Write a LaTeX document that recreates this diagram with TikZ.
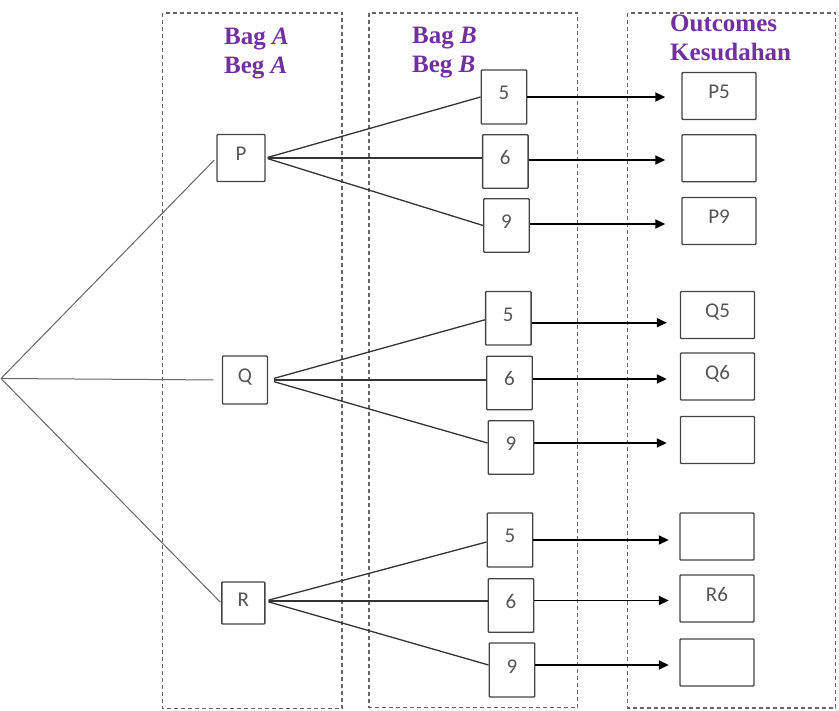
\documentclass[tikz,border=0pt]{standalone}
\usepackage{fontspec}
\setmainfont{Liberation Serif}
\newfontfamily\lblfont{Carlito}
\usetikzlibrary{arrows.meta}
\definecolor{ttlc}{HTML}{7030A0}
\definecolor{framec}{HTML}{666666}
\definecolor{boxc}{HTML}{444444}
\definecolor{lblc}{HTML}{555555}
\begin{document}
\begin{tikzpicture}[x=1pt,y=-1pt,
  frm/.style={draw=framec, line width=1.5pt, dash pattern=on 4pt off 3pt},
  nbox/.style={draw=boxc, line width=1.4pt, rounded corners=0.8pt, inner sep=0pt,
    font={\lblfont\fontsize{21}{24}\selectfont}, text=lblc, text height=11pt, text depth=5pt},
  lbox/.style={nbox, minimum width=46pt, minimum height=47pt},
  dbox/.style={nbox, minimum width=45.5pt, minimum height=53.5pt},
  obox/.style={nbox, minimum width=74pt, minimum height=47pt},
  ttl/.style={anchor=base west, inner sep=0pt, text=ttlc,
    font={\bfseries\fontsize{25}{29}\selectfont}},
  rootln/.style={draw=black!60, line width=1pt},
  br/.style={draw=black!80, line width=1.3pt},
  arr/.style={draw=black, line width=1.8pt, -{Triangle[length=10pt,width=9pt]}}
]
\useasboundingbox (0,0) rectangle (839,711);

% dashed frames
\draw[frm] (162.5,13) rectangle (342,708.5);
\draw[frm] (369,13) rectangle (577.5,707.5);
\draw[frm] (627.5,13) rectangle (835.5,708);

% titles
\node[ttl] (tA1) at (224,45) {Bag \textit{A}};
\node[ttl] (tA2) at (224,74) {Beg \textit{A}};
\node[ttl] (tB1) at (412,44) {Bag \textit{B}};
\node[ttl] (tB2) at (412,73) {Beg \textit{B}};
\node[ttl] (tC1) at (670,32) {Outcomes};
\node[ttl] (tC2) at (670,61) {Kesudahan};

% root
\coordinate (O) at (1,378.5);

% bag A
\node[lbox, minimum width=48pt] (P) at (241,158) {P};
\node[lbox, minimum width=45pt, minimum height=48pt] (Q) at (245,380) {Q};
\node[lbox, minimum width=43pt, minimum height=42pt] (R) at (243.3,603) {R};

% bag B
\node[dbox, minimum height=54pt] (P5) at (504,97) {5};
\node[dbox] (P6) at (505.3,161.5) {6};
\node[dbox] (P9) at (506.5,225.5) {9};
\node[dbox] (Q5) at (508.3,318.3) {5};
\node[dbox] (Q6) at (509.5,383) {6};
\node[dbox] (Q9) at (511,447.5) {9};
\node[dbox, minimum height=54pt] (R5) at (510,540) {5};
\node[dbox] (R6) at (511,605.5) {6};
\node[dbox, minimum height=54pt] (R9) at (512,670) {9};

% outcomes
\node[obox] (oP5) at (719,96) {P5};
\node[obox] (oP6) at (719,158.3) {};
\node[obox] (oP9) at (719,221) {P9};
\node[obox] (oQ5) at (717.5,315) {Q5};
\node[obox] (oQ6) at (717.5,376.5) {Q6};
\node[obox] (oQ9) at (717.5,440) {};
\node[obox] (oR5) at (717,536.5) {};
\node[obox] (oR6) at (717,598.5) {R6};
\node[obox] (oR9) at (717,662.5) {};

% root lines
\draw[rootln, shorten >=3pt] (O) -- (P.west);
\draw[rootln, shorten >=8.5pt] (O) -- (Q.west);
\draw[rootln, shorten >=1pt] (O) -- (R.west);

% branches from P
\draw[br, shorten <=2pt] (P.east) -- (P5.west);
\draw[br, shorten <=2pt] (P.east) -- (P.east -| P6.west);
\draw[br, shorten <=2pt] (P.east) -- (P9.west);
% branches from Q
\draw[br, shorten <=6pt] (Q.east) -- ([yshift=-1.5pt]Q5.west);
\draw[br, shorten <=6pt] (Q.east) -- (Q.east -| Q6.west);
\draw[br, shorten <=6pt] (Q.east) -- ([yshift=4.5pt]Q9.west);
% branches from R
\draw[br, shorten <=3pt] ([yshift=2pt]R.east) -- ([yshift=-2pt]R5.west);
\draw[br, shorten <=3pt] ([yshift=2pt]R.east) -- ([yshift=2pt]R.east -| R6.west);
\draw[br, shorten <=3pt] ([yshift=2pt]R.east) -- ([yshift=5pt]R9.west);

% arrows
\draw[arr, shorten >=16pt] (P5.east) -- (P5.east -| oP5.west);
\draw[arr, shorten >=16pt] ([yshift=1.5pt]P6.east) -- ([yshift=1.5pt]P6.east -| oP6.west);
\draw[arr, shorten >=16pt] ([yshift=1.5pt]P9.east) -- ([yshift=1.5pt]P9.east -| oP9.west);
\draw[arr, shorten >=13pt] ([yshift=-4.4pt]Q5.east) -- ([yshift=-4.4pt]Q5.east -| oQ5.west);
\draw[arr, shorten >=13pt] ([yshift=4pt]Q6.east) -- ([yshift=4pt]Q6.east -| oQ6.west);
\draw[arr, shorten >=13pt] ([yshift=4.5pt]Q9.east) -- ([yshift=4.5pt]Q9.east -| oQ9.west);
\draw[arr, shorten >=10.5pt] (R5.east) -- (R5.east -| oR5.west);
\draw[arr, shorten >=10.5pt] ([yshift=5pt]R6.east) -- ([yshift=5pt]R6.east -| oR6.west);
\draw[arr, shorten >=10.5pt] ([yshift=5pt]R9.east) -- ([yshift=5pt]R9.east -| oR9.west);
\end{tikzpicture}
\end{document}
